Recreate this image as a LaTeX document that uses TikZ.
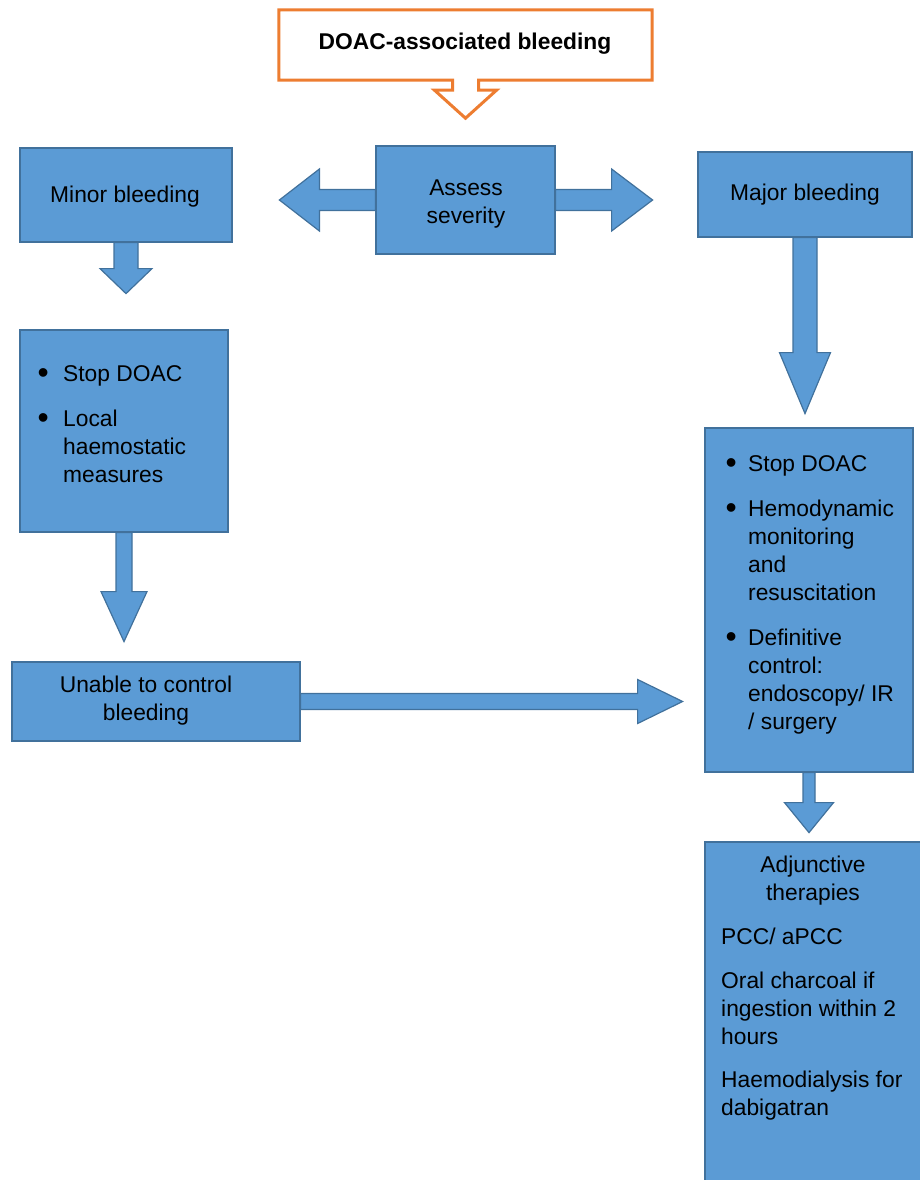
\documentclass[tikz,border=0pt]{standalone}
\usepackage{fontspec}
\setmainfont{Liberation Sans}
\usetikzlibrary{calc}
\definecolor{boxfill}{RGB}{91,155,213}
\definecolor{boxline}{RGB}{65,113,156}
\definecolor{orangeline}{RGB}{237,125,49}
% #1 style, #2 start point, #3 shaft half width, #4 shaft length, #5 head half width, #6 head length
\newcommand\blockdown[6]{%
  \path[#1] ([xshift=-#3pt]#2) -- ++(0,#4) -- ++({-(#5-#3)},0) -- ++(#5,#6)
    -- ++(#5,{-(#6)}) -- ++({-(#5-#3)},0) -- ++(0,{-(#4)}) -- cycle;}
\newcommand\blockright[6]{%
  \path[#1] ([yshift=#3pt]#2) -- ++(#4,0) -- ++(0,{-(#5-#3)}) -- ++(#6,#5)
    -- ++({-(#6)},#5) -- ++(0,{-(#5-#3)}) -- ++({-(#4)},0) -- cycle;}
\newcommand\bigbul{\raisebox{-2.5pt}{\scalebox{1.4}{\textbullet}}}
\begin{document}
\begin{tikzpicture}[x=1pt,y=-1pt,
  bbox/.style={draw=boxline, fill=boxfill, line width=1.2pt, inner sep=0pt},
  barrow/.style={draw=boxline, fill=boxfill, line width=1.2pt, line join=miter},
  oarrow/.style={draw=orangeline, fill=white, line width=3pt, line join=miter},
  txt/.style={inner sep=0pt, font=\fontsize{22.8pt}{28pt}\selectfont},
  btxt/.style={txt, font=\fontsize{22.8pt}{28pt}\selectfont\bfseries}]
\useasboundingbox (0,0) rectangle (920,1180);

% boxes
\node[inner sep=0pt, minimum width=373pt, minimum height=70pt] (top) at (465.5,45) {};
\node[bbox, minimum width=179pt, minimum height=108pt] (assess) at (465.5,200) {};
\node[bbox, minimum width=212pt, minimum height=94pt] (minor) at (126,195) {};
\node[bbox, minimum width=214pt, minimum height=85pt] (major) at (805,194.5) {};
\node[bbox, minimum width=208pt, minimum height=202pt] (leftlist) at (124,431) {};
\node[bbox, minimum width=288pt, minimum height=79pt] (unable) at (156,701.5) {};
\node[bbox, minimum width=208pt, minimum height=344pt] (rightlist) at (809,600) {};
\node[bbox, minimum width=220pt, minimum height=348pt] (adj) at (815,1016) {};

% orange box with its arrow
\path[oarrow] (top.south west) -- (top.north west) -- (top.north east) -- (top.south east)
  -- ([xshift=13pt]top.south) -- ++(0,10) -- ++(18,0) -- ++(-31,28) -- ++(-31,-28)
  -- ++(18,0) -- ++(0,-10) -- cycle;

% block arrows
\blockright{barrow}{assess.west}{10.5}{-56}{31}{-40}
\blockright{barrow}{assess.east}{10.5}{56}{31}{41}
\blockdown{barrow}{minor.south}{12}{26}{26}{25}
\blockdown{barrow}{major.south}{12}{115}{25.5}{61}
\blockdown{barrow}{leftlist.south}{8}{59}{23}{50}
\blockright{barrow}{unable.east}{8}{337}{22}{45}
\blockdown{barrow}{rightlist.south}{6}{30}{24.5}{30}

% texts
\node[btxt, anchor=base] (topt) at (465,50) {DOAC-associated bleeding};
\node[txt, anchor=base] (assesst) at (466,195) {\begin{tabular}[t]{@{}c@{}}Assess\\severity\end{tabular}};
\node[txt, anchor=base] (minort) at (125,202) {Minor bleeding};
\node[txt, anchor=base] (majort) at (805,200) {Major bleeding};
\node[txt, anchor=base west] (leftlistt) at (37.5,381) {\begin{tabular}[t]{@{}p{25.5pt}@{}l@{}}
\bigbul & Stop DOAC\\[17pt]
\bigbul & Local\\
 & haemostatic\\
 & measures
\end{tabular}};
\node[txt, anchor=base] (unablet) at (146,692) {\begin{tabular}[t]{@{}c@{}}Unable to control\\bleeding\end{tabular}};
\node[txt, anchor=base west] (rightlistt) at (725.5,471) {\begin{tabular}[t]{@{}p{22.5pt}@{}l@{}}
\bigbul & Stop DOAC\\[17pt]
\bigbul & Hemodynamic\\
 & monitoring\\
 & and\\
 & resuscitation\\[17pt]
\bigbul & Definitive\\
 & control:\\
 & endoscopy/ IR\\
 & / surgery
\end{tabular}};
\node[txt, anchor=base] (adjt) at (813,872) {\begin{tabular}[t]{@{}c@{}}Adjunctive\\therapies\end{tabular}};
\node[txt, anchor=base west] (adjlist) at (721,944) {\begin{tabular}[t]{@{}l@{}}
PCC/ aPCC\\[16pt]
Oral charcoal if\\
ingestion within 2\\
hours\\[15pt]
Haemodialysis for\\
dabigatran
\end{tabular}};
\end{tikzpicture}
\end{document}
